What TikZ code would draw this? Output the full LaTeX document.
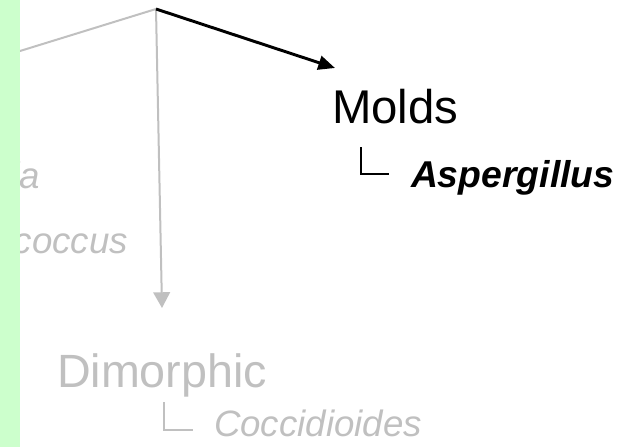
\documentclass[tikz,border=0pt]{standalone}
\usepackage{fontspec}
\setmainfont{Liberation Sans}
\usetikzlibrary{arrows.meta}
\definecolor{barGreen}{HTML}{CCFFCC}
\definecolor{dimGray}{HTML}{C0C0C0}
\begin{document}
\begin{tikzpicture}[x=0.75pt,y=-0.75pt,
  txt/.style={inner sep=0pt,outer sep=0pt,anchor=base west},
  txtE/.style={inner sep=0pt,outer sep=0pt,anchor=base east},
  bigfont/.style={font=\fontsize{35.5}{40}\selectfont},
  spfont/.style={font=\fontsize{27.5}{32}\selectfont\itshape},
  grayline/.style={draw=dimGray,line width=1.5pt},
  thinline/.style={line width=0.8pt}]
\useasboundingbox (0,0) rectangle (630,447);
% coordinates
\coordinate (apex) at (156,9);
\coordinate (leftend) at (20,51);
\coordinate (moldsL) at (361,147);
\coordinate (dimL) at (164,402);
% text
\node[txt,bigfont] (molds) at (332,123) {Molds};
\node[txt,spfont,font=\fontsize{28}{32}\selectfont\bfseries\itshape] (asp) at (411,187) {Aspergillus};
\node[txt,font=\fontsize{35}{40}\selectfont,text=dimGray] (dimorphic) at (57,387) {Dimorphic};
\node[txt,spfont,font=\fontsize{27.5}{32}\selectfont\itshape,text=dimGray] (cocci) at (214,436) {Coccidioides};
\begin{scope}
  \clip (20,0) rectangle (630,447);
  \node[txtE,spfont,text=dimGray] (yeast1) at (40,188) {da};
  \node[txtE,spfont,text=dimGray] (yeast2) at (128,253) {coccus};
\end{scope}
% connectors
\draw[grayline] (apex) -- (leftend);
\draw[grayline,-{Triangle[length=11.8pt,width=12.5pt]}] (apex) -- (162,308) coordinate (dimtip);
\draw[line width=2.2pt,-{Triangle[length=12.5pt,width=10.5pt]}] (apex) -- (335,68) coordinate (moldtip);
\draw[thinline] (moldsL) -- (361,174) -- (389,174);
\draw[thinline,draw=dimGray] (dimL) -- (164,430) -- (193,430);
% green bar
\fill[barGreen] (0,0) rectangle (20,447);
\end{tikzpicture}
\end{document}
